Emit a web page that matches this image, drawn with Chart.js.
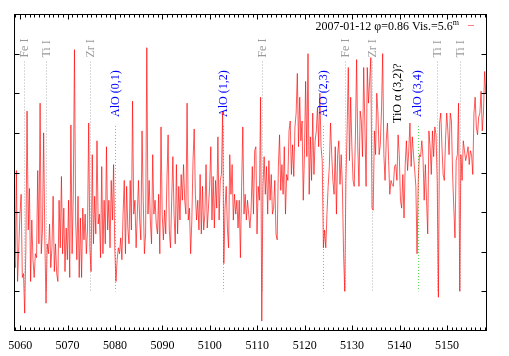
<!DOCTYPE html>
<html>
<head>
<meta charset="utf-8">
<script src="https://cdn.jsdelivr.net/npm/chart.js@4.4.1/dist/chart.umd.min.js"></script>
<style>
    body { margin: 0; background: #fff; }
    canvas { display: block; }
</style>
</head>
<body>
<canvas id="chart-spectrum" width="509" height="356"></canvas>
<script>
// spectrum, sampled every 0.25 A starting at 5058.7 A
const waveStart = 5058.7;
const waveStep = 0.25;
const flux = [
    0.39, 0.32, 0.81, 0.25, 0.42, 0.59, 0.69, 0.27, 0.29, 0.09,
    0.42, 1.11, 0.51, 0.72, 0.25, 0.56, 0.36, 0.27, 0.39, 0.37,
    0.81, 0.44, 1.15, 0.39, 0.51, 1.00, 0.46, 0.14, 0.44, 0.39,
    0.54, 0.32, 0.42, 0.68, 0.30, 0.44, 0.29, 0.25, 0.66, 0.42,
    0.78, 0.39, 0.62, 0.30, 0.52, 0.36, 0.66, 0.27, 1.04, 0.39,
    0.69, 1.42, 0.56, 0.36, 0.68, 0.27, 0.57, 0.27, 0.62, 0.46,
    0.59, 0.39, 0.51, 1.05, 0.42, 0.30, 0.89, 0.44, 0.68, 0.49,
    0.96, 0.54, 0.59, 0.37, 0.83, 0.39, 0.66, 0.44, 0.93, 0.51,
    0.66, 0.42, 0.76, 0.56, 0.84, 0.42, 0.25, 0.36, 0.42, 0.39,
    0.47, 0.36, 0.59, 0.76, 0.39, 0.73, 0.52, 0.44, 0.76, 0.51,
    1.16, 0.59, 0.66, 0.42, 0.59, 0.76, 0.56, 0.46, 1.01, 0.66,
    0.39, 0.49, 1.43, 0.59, 0.76, 0.56, 0.44, 0.89, 0.59, 0.66,
    0.54, 0.49, 0.69, 0.39, 1.03, 0.59, 0.46, 0.61, 0.49, 0.76,
    0.99, 0.51, 0.42, 0.66, 0.88,
    0.59, 0.44, 0.84, 0.49, 0.73, 0.56, 0.79, 0.66, 0.84, 0.66,
    0.59, 1.15, 0.56, 0.62, 0.39, 0.56, 0.86, 1.02, 0.69, 0.56,
    0.66, 0.51, 0.79, 0.49, 0.73, 0.51, 0.59, 0.84, 0.52, 0.62,
    0.73, 0.93, 0.56, 0.78, 0.52, 0.76, 0.62, 0.98, 0.56, 0.76,
    0.79, 1.11, 0.34, 0.62, 0.73, 0.52, 0.42, 0.89, 0.69, 0.84,
    0.56, 0.69, 0.59, 0.66, 0.52, 0.66, 0.37, 0.73, 1.03, 0.59,
    0.69, 0.56, 0.66, 0.59, 0.52, 0.61, 0.83, 0.59, 0.91, 0.93,
    0.49, 0.73, 0.66, 1.18, 0.05, 0.73, 0.88, 0.69, 0.83, 0.59,
    0.86, 0.66, 0.79, 0.59, 0.62, 0.76, 0.49, 0.46, 0.83, 0.99,
    0.71, 0.84, 0.69, 0.93, 0.59, 0.79, 0.76, 1.01, 1.06, 0.79,
    0.94, 0.78, 1.03, 1.10, 1.30, 0.93, 1.18, 0.96, 1.06, 0.66,
    0.89, 1.26, 0.88, 1.40, 0.69, 0.98, 0.76, 1.10, 0.79, 0.96,
    1.01, 1.13, 0.93, 1.20, 0.93, 0.86, 0.42, 0.51, 0.42, 0.59,
    0.73, 0.83, 1.05,
    0.89, 0.76, 0.69, 0.93, 0.59, 0.89, 0.96, 0.74, 0.89, 0.73,
    0.39, 0.20, 0.76, 1.01, 1.33, 0.86, 1.18, 0.93, 0.76, 0.73,
    0.98, 1.37, 0.93, 0.73, 1.11, 1.06, 0.88, 1.33, 1.03, 0.73,
    1.33, 1.15, 1.26, 1.38, 0.62, 0.61, 1.01, 0.89, 1.20, 1.10,
    0.89, 0.94, 1.11, 1.40, 0.89, 0.76, 0.96, 1.05, 0.86, 0.69,
    0.76, 0.74, 0.73, 0.83, 0.84, 0.76, 0.99, 0.89, 0.66, 0.62,
    0.79, 0.57, 0.84, 0.96, 0.81, 0.91, 1.05, 0.83, 0.98, 0.89,
    0.81, 0.73, 0.39, 0.76, 0.89, 0.88, 0.96, 0.88, 0.66, 0.84,
    0.66, 0.49, 1.01, 0.93, 0.79, 1.01, 0.88, 1.03, 0.99, 0.76,
    0.17, 1.05, 1.10, 0.93, 0.79, 0.76, 0.96, 1.10, 1.01, 0.89,
    1.10, 1.06, 0.79, 0.62, 0.47, 0.86, 0.89, 1.15, 0.20, 0.89,
    0.76, 0.96, 0.91, 0.86, 0.89, 0.93, 0.84, 0.91, 0.89, 0.79,
    1.10, 1.18, 1.03, 0.99, 1.08, 1.10, 1.21, 1.01, 1.10, 1.31,
    1.20, 1.25
];

// line identifications
const idWave = [5060.8, 5065.5, 5074.8, 5080.0, 5102.8, 5111.0, 5123.9, 5128.6, 5134.3, 5139.5, 5143.8, 5148.0, 5152.8];
const idLabel = ['Fe I', 'Ti I', 'Zr I', 'AlO (0,1)', 'AlO (1,2)', 'Fe I', 'AlO (2,3)', 'Fe I', 'Zr I', 'TiO α (3,2)?', 'AlO (3,4)', 'Ti I', 'Ti I'];
const idKind = ['atom', 'atom', 'atom', 'AlO', 'AlO', 'atom', 'AlO', 'atom', 'atom', 'TiO', 'AlO', 'atom', 'atom'];

const keyText = '2007-01-12 φ=0.86 Vis.=5.6';
const keySup = 'm';

const xMin = 5058.7, xMax = 5158.45;
const yMin = 0, yMax = 1.6;

const serif = '"Liberation Serif", "Times New Roman", serif';
const specColor = 'rgba(255, 0, 0, 0.65)';

const kindStyle = {
    atom: { text: '#9a9a9a', line: '#b4b4b4', textFrom: 1.38, lineFrom: 1.36 },
    AlO: { text: '#0000ff', line: '#55dd55', textFrom: 1.08, lineFrom: 1.035 },
    TiO: { text: '#000000', line: null, textFrom: 1.05, lineFrom: null }
};
const lineTo = 0.2;

function drawSeg(ctx, x1, y1, x2, y2) {
    ctx.beginPath();
    ctx.moveTo(x1, y1);
    ctx.lineTo(x2, y2);
    ctx.stroke();
}

const idLinesPlugin = {
    id: 'idLines',
    beforeDatasetsDraw(chart) {
        const { ctx, scales: { x, y } } = chart;
        ctx.save();
        ctx.lineWidth = 1;
        ctx.setLineDash([1, 2]);
        idWave.forEach((w, i) => {
            const st = kindStyle[idKind[i]];
            if (!st.line) return;
            const px = Math.round(x.getPixelForValue(w)) + 0.5;
            ctx.strokeStyle = st.line;
            drawSeg(ctx, px, y.getPixelForValue(st.lineFrom), px, y.getPixelForValue(lineTo));
        });
        ctx.restore();
    },
    afterDatasetsDraw(chart) {
        const { ctx, scales: { x, y } } = chart;
        ctx.save();
        ctx.font = '12px ' + serif;
        ctx.textAlign = 'left';
        ctx.textBaseline = 'middle';
        idWave.forEach((w, i) => {
            const st = kindStyle[idKind[i]];
            ctx.save();
            ctx.translate(x.getPixelForValue(w) + 0.5, y.getPixelForValue(st.textFrom));
            ctx.rotate(-Math.PI / 2);
            ctx.fillStyle = st.text;
            ctx.fillText(idLabel[i], 0, 0);
            ctx.restore();
        });
        ctx.restore();
    }
};

const framePlugin = {
    id: 'frame',
    afterDraw(chart) {
        const { ctx, chartArea: a, scales: { x, y } } = chart;
        ctx.save();
        ctx.strokeStyle = '#000';
        ctx.lineWidth = 1;
        const l = a.left + 0.5, r = a.right - 0.5, t = a.top + 0.5, b = a.bottom - 0.5;
        ctx.strokeRect(l, t, r - l, b - t);
        for (let w = Math.ceil(xMin); w <= xMax; w++) {
            const px = Math.round(x.getPixelForValue(w)) + 0.5;
            const len = w % 10 === 0 ? 5 : 3;
            drawSeg(ctx, px, b, px, b - len);
            drawSeg(ctx, px, t, px, t + len);
        }
        for (let k = 1; k < 8; k++) {
            const py = Math.round(y.getPixelForValue(yMin + k * 0.2)) + 0.5;
            drawSeg(ctx, l, py, l + 5, py);
            drawSeg(ctx, r, py, r - 5, py);
        }
        ctx.restore();
    }
};

const keyPlugin = {
    id: 'key',
    afterDraw(chart) {
        const { ctx, chartArea: a } = chart;
        ctx.save();
        ctx.fillStyle = '#000';
        ctx.textBaseline = 'alphabetic';
        ctx.font = '8px ' + serif;
        const supW = ctx.measureText(keySup).width;
        const right = a.right - 28;
        ctx.textAlign = 'left';
        ctx.fillText(keySup, right - supW, a.top + 11);
        ctx.font = '12px ' + serif;
        ctx.textAlign = 'right';
        ctx.fillText(keyText, right - supW, a.top + 16);
        ctx.strokeStyle = 'rgba(255, 110, 110, 0.9)';
        ctx.lineWidth = 1;
        drawSeg(ctx, a.right - 19, a.top + 11.5, a.right - 13, a.top + 11.5);
        ctx.restore();
    }
};

document.addEventListener('DOMContentLoaded', function () {
    const ctx = document.getElementById('chart-spectrum').getContext('2d');
    const points = flux.map((f, i) => ({ x: waveStart + i * waveStep, y: f }));

    new Chart(ctx, {
        type: 'line',
        data: {
            datasets: [{
                label: keyText,
                data: points,
                borderColor: specColor,
                borderWidth: 1,
                pointRadius: 0,
                tension: 0,
                fill: false
            }]
        },
        options: {
            responsive: false,
            animation: false,
            layout: { padding: { top: 14, right: 22, left: 0, bottom: 0 } },
            plugins: {
                legend: { display: false },
                tooltip: { enabled: false }
            },
            scales: {
                x: {
                    type: 'linear',
                    min: xMin,
                    max: xMax,
                    afterFit: function (scale) { scale.height = 25; },
                    grid: { display: false, drawTicks: false },
                    border: { display: false },
                    ticks: {
                        stepSize: 10,
                        includeBounds: false,
                        autoSkip: false,
                        maxRotation: 0,
                        color: '#000',
                        padding: 8,
                        font: { family: serif, size: 12 },
                        callback: function (v) { return String(v); }
                    }
                },
                y: {
                    min: yMin,
                    max: yMax,
                    afterFit: function (scale) { scale.width = 14; },
                    grid: { display: false, drawTicks: false },
                    border: { display: false },
                    ticks: { display: false, stepSize: 0.2 }
                }
            }
        },
        plugins: [idLinesPlugin, framePlugin, keyPlugin]
    });
});
</script>
</body>
</html>
